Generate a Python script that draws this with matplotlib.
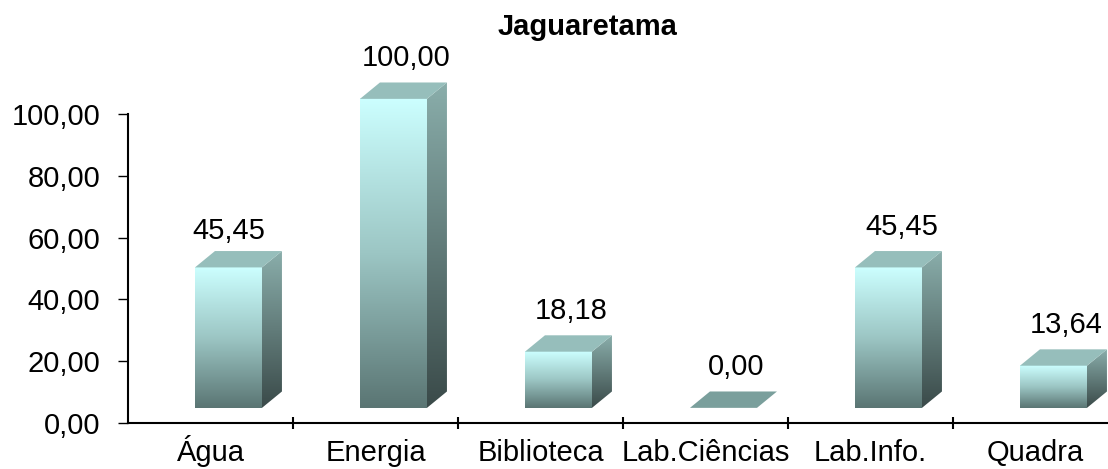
import numpy as np
import matplotlib
matplotlib.use('Agg')
import matplotlib.pyplot as plt
from matplotlib.patches import Polygon
from matplotlib.colors import LinearSegmentedColormap
from matplotlib.ticker import FuncFormatter, FixedLocator

titulo = 'Jaguaretama'
categorias = ['Água', 'Energia', 'Biblioteca', 'Lab.Ciências', 'Lab.Info.', 'Quadra']
valores = [45.45, 100.00, 18.18, 0.00, 45.45, 13.64]
yticks = [0, 20, 40, 60, 80, 100]

plt.rcParams['font.family'] = ['Liberation Sans', 'DejaVu Sans']

def virgula(v, pos=None):
    return f'{v:.2f}'.replace('.', ',')

# cores do efeito 3D
cm_frente = LinearSegmentedColormap.from_list('frente', ['#5a7573', '#9cc6c4', '#ccffff'])
cm_lado = LinearSegmentedColormap.from_list('lado', ['#3a4a49', '#8aaeab'])
cor_topo = '#96bebb'
cor_topo_zero = '#7a9f9c'

W, H = 1108, 469
fig = plt.figure(figsize=(W / 100, H / 100), dpi=100, facecolor='white')
# eixo passa da borda direita, como no original
ax = fig.add_axes([128 / W, (H - 423) / H, 990 / W, 423 / H])
escala = 3.09  # px por unidade
ymax = 423 / escala

# geometria das barras (unidades de dados)
larg = 0.406
desl = -0.094
base = 4.9
dx, dy = 0.121, 5.3

grad = np.linspace(0, 1, 256).reshape(-1, 1)

for i, v in enumerate(valores):
    x0 = i + desl
    x1 = x0 + larg
    y0 = base
    y1 = base + v
    if v > 0:
        ax.imshow(grad, extent=[x0, x1, y0, y1], origin='lower', aspect='auto',
                  cmap=cm_frente, interpolation='bicubic', zorder=2)
        lado = Polygon([(x1, y0), (x1 + dx, y0 + dy), (x1 + dx, y1 + dy), (x1, y1)],
                       closed=True, facecolor='none', edgecolor='none', transform=ax.transData)
        ax.add_patch(lado)
        im = ax.imshow(grad, extent=[x1, x1 + dx, y0, y1 + dy], origin='lower', aspect='auto',
                       cmap=cm_lado, interpolation='bicubic', zorder=2)
        im.set_clip_path(lado)
        cor = cor_topo
    else:
        cor = cor_topo_zero
    topo = Polygon([(x0, y1), (x1, y1), (x1 + dx, y1 + dy), (x0 + dx, y1 + dy)],
                   closed=True, facecolor=cor, edgecolor='none', zorder=3)
    ax.add_patch(topo)
    # rotulo da primeira barra fica um pouco mais baixo/esquerda no original
    if i == 0:
        lx, ly = i + 0.11, y1 + dy + 3.8
    else:
        lx, ly = i + 0.187, y1 + dy + 5.2
    ax.text(lx, ly, virgula(v), ha='center', va='baseline', fontsize=21, color='black')

ax.set_xlim(-0.5, 5.5)
ax.set_ylim(0, ymax)

for s in ['top', 'right']:
    ax.spines[s].set_visible(False)
ax.spines['left'].set_bounds(0, 100)
ax.spines['left'].set_linewidth(1.5)
ax.spines['bottom'].set_linewidth(1.5)

ax.yaxis.set_major_locator(FixedLocator(yticks))
ax.yaxis.set_major_formatter(FuncFormatter(virgula))
ax.tick_params(axis='y', direction='out', length=7, width=1, pad=13, labelsize=21)

ax.xaxis.set_major_locator(FixedLocator(np.arange(len(categorias)) + 0.5))
ax.xaxis.set_major_formatter(FuncFormatter(lambda v, p: ''))
ax.xaxis.set_minor_locator(FixedLocator(np.arange(len(categorias))))
ax.set_xticklabels(categorias, minor=True)
ax.tick_params(axis='x', which='major', direction='inout', length=8, width=1.5)
ax.tick_params(axis='x', which='minor', length=0, pad=27, labelsize=21)
for lbl in ax.get_xticklabels(minor=True):
    lbl.set_verticalalignment('baseline')

fig.text(587.5 / W, 1 - 35 / H, titulo, ha='center', va='baseline',
         fontsize=21, fontweight='bold')

fig.savefig('out.png', dpi=100)
